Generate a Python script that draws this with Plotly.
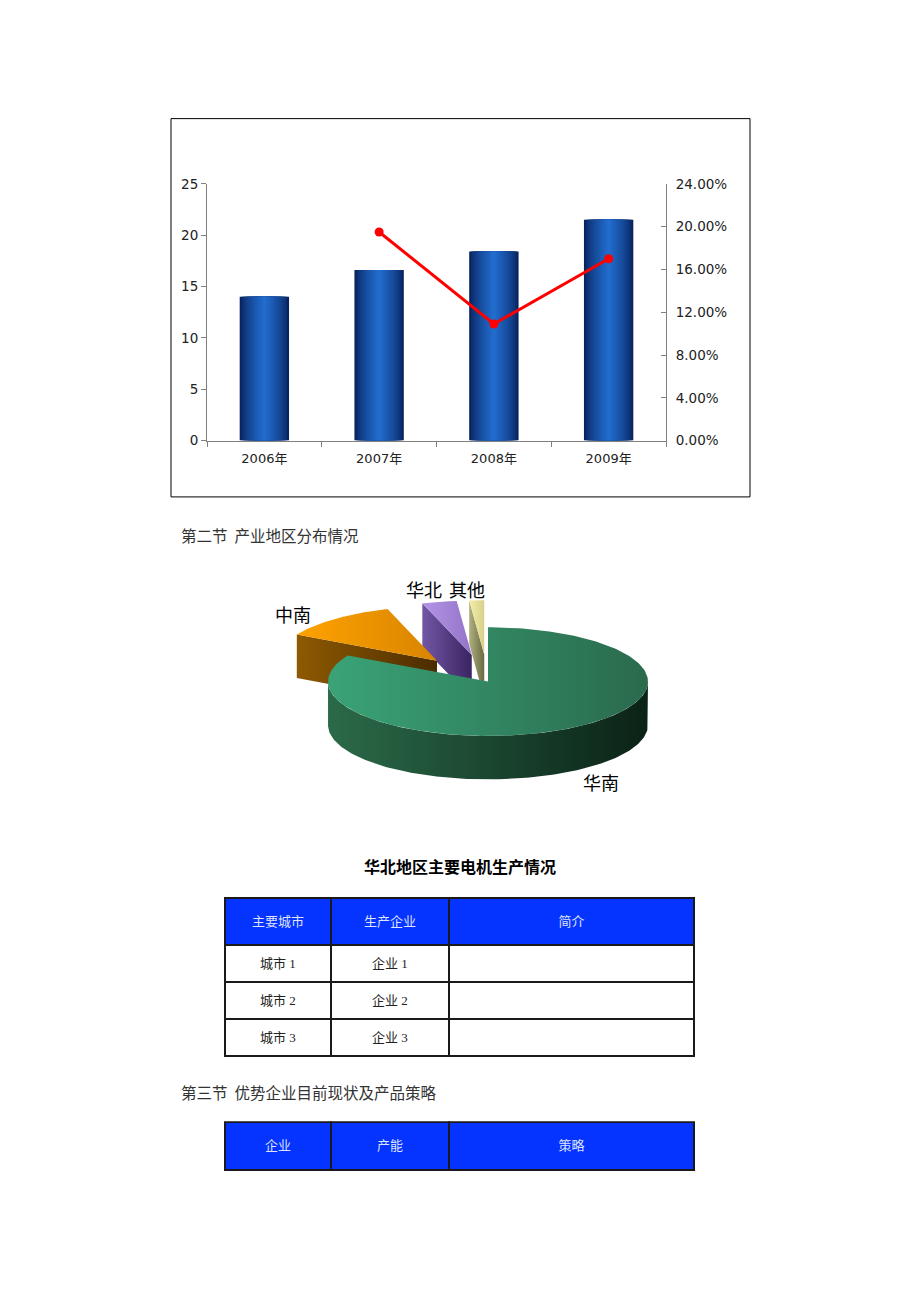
import numpy as np
import plotly.graph_objects as go

# ---------------- data ----------------
years = ["2006年", "2007年", "2008年", "2009年"]
output = [14.0, 16.6, 18.4, 21.5]
growth = [None, 0.195, 0.109, 0.170]

regions = ["华南", "中南", "华北", "其他"]
shares = [83.0, 12.0, 3.5, 1.5]

t1_title = "华北地区主要电机生产情况"
t1_header = ["主要城市", "生产企业", "简介"]
t1_city = ["城市 1", "城市 2", "城市 3"]
t1_firm = ["企业 1", "企业 2", "企业 3"]
t1_desc = ["", "", ""]
t2_header = ["企业", "产能", "策略"]

sec2 = "第二节  产业地区分布情况"
sec3 = "第三节  优势企业目前现状及产品策略"

# ---------------- layout helpers ----------------
W, H = 920, 1302
def px(x):
    return x / W
def py(y):
    return 1 - y / H

CJK = "Noto Sans CJK SC"
SANS = "DejaVu Sans, Noto Sans CJK SC"
SERIF = "Liberation Serif, Noto Sans CJK SC"

def nb(s):
    return s.replace(" ", "\u00a0")

def lowered(s, size):
    # a small spacer line above the text pushes it to the middle of the taller cell
    return "\u00a0<br><span style='font-size:%dpx'>%s</span>" % (size, nb(s) if s else "\u00a0")

fig = go.Figure()

# ---------------- bar + line chart ----------------
n_layers = 14
dark = np.array([8, 34, 92])
bright = np.array([34, 108, 205])
for i in range(n_layers):
    f = i / (n_layers - 1)
    c = dark + (bright - dark) * (f ** 0.7)
    w = 0.43 * (1 - i / n_layers)
    fig.add_trace(go.Bar(
        x=years, y=output, width=w, xaxis="x", yaxis="y",
        marker=dict(color="rgb(%d,%d,%d)" % tuple(c.astype(int)), line=dict(width=0)),
        hoverinfo="skip", showlegend=False))

fig.add_trace(go.Scatter(
    x=years, y=growth, xaxis="x", yaxis="y2", mode="lines+markers",
    line=dict(color="#ff0000", width=3), marker=dict(color="#ff0000", size=9),
    connectgaps=False, showlegend=False, hoverinfo="skip"))

# ---------------- 3D pie (computed from shares) ----------------
CX, CY, RX, RY, DEPTH, EXPL = 488, 682, 160, 55, 44, 0.5

styles = {
    "华南": dict(top=["#3aa377", "#2a6a4c"], wall=["#2b6a49", "#0b2216"], rad=["#2b6a49", "#12351f"]),
    "中南": dict(top=["#ffa200", "#d88400"], wall=["#8a5600", "#4a2b00"], rad=["#8e5a02", "#4b2c00"]),
    "华北": dict(top=["#b494e6", "#9474c8"], wall=["#6a4c9a", "#3a2460"], rad=["#7256a4", "#3a2462"]),
    "其他": dict(top=["#f4eeaa", "#d8d08a"], wall=["#a8a878", "#707048"], rad=["#b0b080", "#6a6a44"]),
}

def poly(xs, ys, cols, name):
    return go.Scatter(
        x=list(xs) + [xs[0]], y=list(ys) + [ys[0]], xaxis="x3", yaxis="y3",
        mode="lines", fill="toself", line=dict(width=0),
        fillcolor=cols[0],
        fillgradient=dict(type="horizontal", colorscale=[[0, cols[0]], [1, cols[1]]]),
        hoverinfo="skip", showlegend=False, name=name)

slices = []
cum = 0.0
for name, s in zip(regions, shares):
    a0 = 90 - cum * 3.6
    a1 = a0 - s * 3.6
    cum += s
    mid = np.radians((a0 + a1) / 2)
    if name == regions[0]:
        dx, dy = 0.0, 0.0
    else:
        dx, dy = EXPL * RX * np.cos(mid), -EXPL * RY * np.sin(mid)
    slices.append((name, a0, a1, CX + dx, CY + dy))

slices_sorted = sorted(slices, key=lambda r: r[4])
for name, a0, a1, cx, cy in slices_sorted:
    st = styles[name]
    r0, r1 = np.radians(a0), np.radians(a1)
    for ang, vis in ((r0, np.cos(r0) < -1e-6), (r1, np.cos(r1) > 1e-6)):
        if vis:
            ex, ey = cx + RX * np.cos(ang), cy - RY * np.sin(ang)
            fig.add_trace(poly([cx, ex, ex, cx], [cy, ey, ey + DEPTH, cy + DEPTH], st["rad"], name))
    ts = np.linspace(r1, r0, 240)
    front = ts[np.sin(ts) < 0]
    if len(front) > 1:
        ex = cx + RX * np.cos(front)
        ey = cy - RY * np.sin(front)
        xs = np.concatenate([ex, ex[::-1]])
        ys = np.concatenate([ey, ey[::-1] + DEPTH])
        fig.add_trace(poly(xs, ys, st["wall"], name))
    ts = np.linspace(r0, r1, 240)
    xs = np.concatenate([[cx], cx + RX * np.cos(ts)])
    ys = np.concatenate([[cy], cy - RY * np.sin(ts)])
    fig.add_trace(poly(xs, ys, st["top"], name))

# ---------------- tables ----------------
line_style = dict(color="#1a1a1a", width=2)
HEAD_BASE, CELL_BASE = 9.4, 7
fig.add_trace(go.Table(
    domain=dict(x=[px(225), px(694)], y=[py(1066), py(901)]),
    columnwidth=[106, 118, 245],
    header=dict(values=[lowered(v, 13) for v in t1_header], fill_color="#0533ff",
                line=line_style, height=47, align="center",
                font=dict(color="#dfe3ff", size=HEAD_BASE, family=SERIF)),
    cells=dict(values=[[lowered(v, 13) for v in col] for col in (t1_city, t1_firm, t1_desc)],
               fill_color="white", line=line_style, height=37, align="center",
               font=dict(color="#222222", size=CELL_BASE, family=SERIF)),
))
fig.add_trace(go.Table(
    domain=dict(x=[px(225), px(694)], y=[py(1182), py(1128)]),
    columnwidth=[106, 118, 245],
    header=dict(values=[lowered(v, 13) for v in t2_header], fill_color="#0533ff",
                line=line_style, height=48, align="center",
                font=dict(color="#dfe3ff", size=HEAD_BASE, family=SERIF)),
    cells=dict(values=[[], [], []], height=1),
))

# ---------------- annotations ----------------
ann = []
ann.append(dict(text=nb(sec2), x=px(179), y=py(534), xanchor="left", yanchor="middle",
                font=dict(family=CJK, size=15.5, color="#333333")))
ann.append(dict(text="<b>" + t1_title + "</b>", x=px(460), y=py(869), xanchor="center",
                yanchor="middle", font=dict(family=CJK, size=16, color="#000000")))
ann.append(dict(text=nb(sec3), x=px(179), y=py(1097), xanchor="left", yanchor="middle",
                font=dict(family=CJK, size=15.5, color="#333333")))
label_pos = {"中南": (293, 614), "华北": (424, 588), "其他": (467, 588), "华南": (601, 784)}
for name in regions:
    lx, ly = label_pos[name]
    ann.append(dict(text=name, x=px(lx), y=py(ly), xanchor="center", yanchor="middle",
                    font=dict(family=CJK, size=18, color="#000000")))
for a in ann:
    a.update(xref="paper", yref="paper", showarrow=False)

axis_col = "#808080"
fig.update_layout(
    width=W, height=H, margin=dict(l=0, r=0, t=0, b=0),
    paper_bgcolor="white", plot_bgcolor="rgba(0,0,0,0)",
    barmode="overlay", showlegend=False,
    annotations=ann,
    shapes=[dict(type="rect", xref="paper", yref="paper",
                 x0=px(171), x1=px(750), y0=py(495), y1=py(112),
                 line=dict(color="#000000", width=1))],
    xaxis=dict(domain=[px(207), px(666)], anchor="y", type="category", range=[-0.5, 3.5],
               showline=True, linecolor=axis_col, linewidth=1, ticks="outside",
               tickson="boundaries", ticklen=5, tickcolor=axis_col, showgrid=False,
               tickfont=dict(family=SANS, size=13, color="#222222"), ticklabelstandoff=6),
    yaxis=dict(domain=[py(438), py(178)], anchor="x", range=[0, 25], dtick=5,
               showline=True, linecolor=axis_col, linewidth=1, ticks="outside", ticklen=5,
               tickcolor=axis_col, showgrid=False, zeroline=False,
               tickfont=dict(family=SANS, size=13.5, color="#222222")),
    yaxis2=dict(overlaying="y", side="right", anchor="x", range=[0, 0.24], dtick=0.04,
                tickformat=".2%", showline=True, linecolor=axis_col, linewidth=1,
                ticks="inside", ticklen=5, tickcolor=axis_col, showgrid=False, zeroline=False,
                tickfont=dict(family=SANS, size=13.5, color="#222222"), ticklabelstandoff=6),
    xaxis3=dict(domain=[0, 1], range=[0, W], anchor="y3", visible=False, fixedrange=True),
    yaxis3=dict(domain=[0, 1], range=[H, 0], anchor="x3", visible=False, fixedrange=True),
)

fig.write_html("out.html", config={"displayModeBar": False},
               post_script="document.body.style.margin='0';")
